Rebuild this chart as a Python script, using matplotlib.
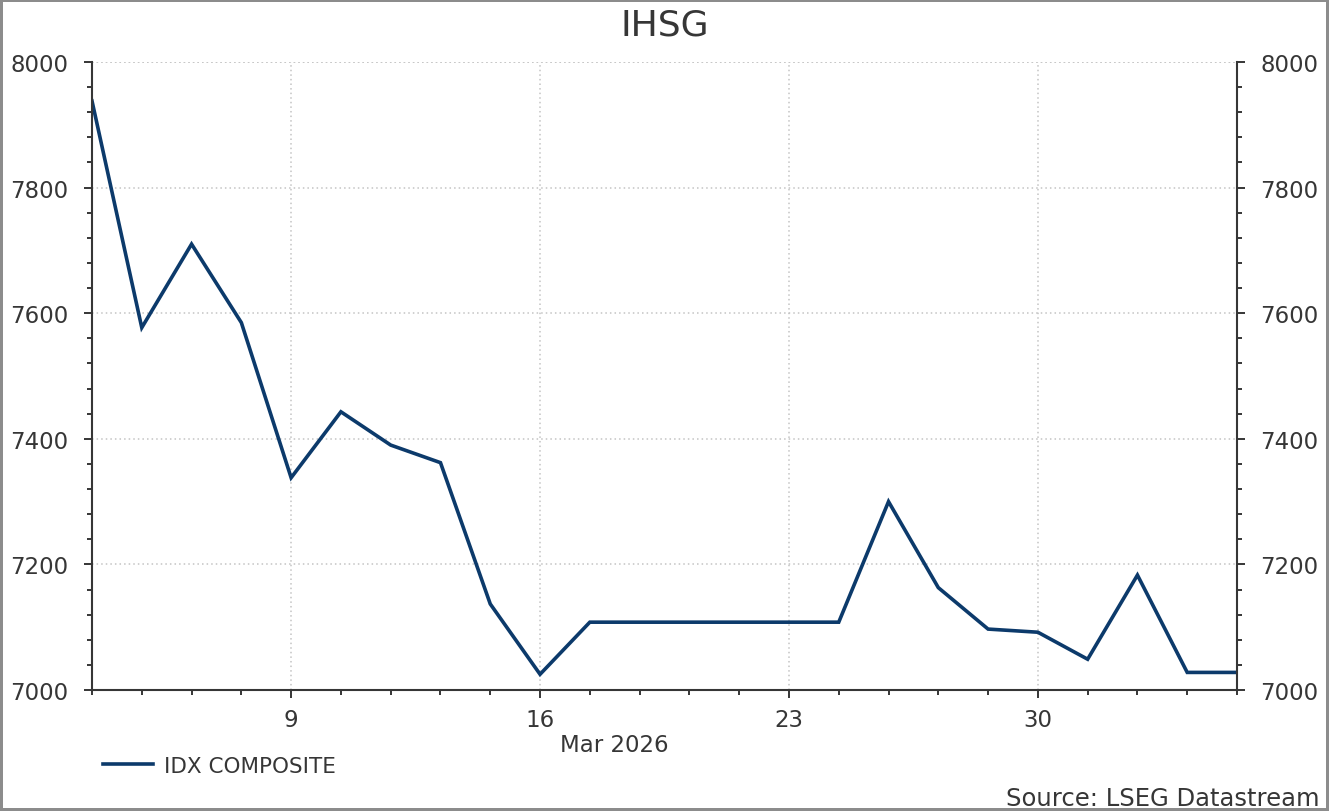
import numpy as np
import pandas as pd
import matplotlib
matplotlib.use("Agg")
import matplotlib.pyplot as plt
from matplotlib.ticker import FixedLocator, MultipleLocator, NullFormatter

# trading days shown (weekends skipped)
dates = pd.bdate_range("2026-03-03", "2026-04-03")
idx_composite = [7938, 7577, 7710, 7585,
                 7338, 7443, 7390, 7362, 7137,
                 7025, 7108, 7108, 7108, 7108,
                 7108, 7108, 7300, 7163, 7097,
                 7092, 7049, 7183, 7028, 7028]
series_name = "IDX COMPOSITE"
title = "IHSG"
month_label = "Mar 2026"
source = "Source: LSEG Datastream"

text_col = "#363636"
line_col = "#0c3a6b"
grid_col = "#c4c4c4"

plt.rcParams["font.family"] = "DejaVu Sans"

fig = plt.figure(figsize=(13.29, 8.12), dpi=100)
ax = fig.add_axes([92/1329, 1-691/812, (1237-92)/1329, (691-63)/812])

x = np.arange(len(dates))
ax.plot(x, idx_composite, color=line_col, lw=2.6, label=series_name,
        solid_joinstyle="miter")

ax.set_xlim(0, len(dates)-1)
ax.set_ylim(7000, 8000)

# x ticks: Mondays labelled, every trading day a minor tick
mondays = [i for i, d in enumerate(dates) if d.weekday() == 0]
ax.xaxis.set_major_locator(FixedLocator(mondays))
ax.set_xticklabels([str(dates[i].day) for i in mondays])
ax.xaxis.set_minor_locator(FixedLocator([i for i in x if i not in mondays]))
ax.xaxis.set_minor_formatter(NullFormatter())

ax.yaxis.set_major_locator(MultipleLocator(200))
ax.yaxis.set_minor_locator(MultipleLocator(40))

ax.tick_params(axis="both", which="major", direction="out", color=text_col,
               labelcolor=text_col, labelsize=16.5, width=1.4)
ax.tick_params(axis="y", which="major", length=6, pad=11,
               left=True, right=True, labelleft=True, labelright=True)
ax.tick_params(axis="y", which="minor", length=3.5, width=1.4, color=text_col,
               left=True, right=True)
ax.tick_params(axis="x", which="major", length=6, pad=7)
ax.tick_params(axis="x", which="minor", length=3.5, width=1.4, color=text_col)

for side in ["left", "right", "bottom"]:
    ax.spines[side].set_color(text_col)
    ax.spines[side].set_linewidth(1.5)
ax.spines["top"].set_visible(False)

ax.grid(True, which="major", color=grid_col, lw=1.1, linestyle=(0, (1, 2)))
ax.axhline(8000, color=grid_col, lw=1.1, linestyle=(0, (1, 2)))
ax.set_axisbelow(True)

fig.text(0.5, 1-25/812, title, ha="center", va="center", fontsize=26,
         color=text_col)
ax.text(0.456, -0.087, month_label, transform=ax.transAxes, ha="center",
        va="center", fontsize=16.5, color=text_col)
fig.text(0.993, 1-799/812, source, ha="right", va="center", fontsize=17.5,
         color=text_col)

leg = fig.legend(loc="center left", bbox_to_anchor=(103/1329, 1-767/812),
                 frameon=False, fontsize=15.5, handlelength=2.3,
                 handletextpad=0.55, borderpad=0, borderaxespad=0)
for t in leg.get_texts():
    t.set_color(text_col)

fig.patch.set_edgecolor("#8c8c8c")
fig.patch.set_linewidth(4)

fig.savefig("out.png", dpi=100, edgecolor=fig.get_edgecolor())
